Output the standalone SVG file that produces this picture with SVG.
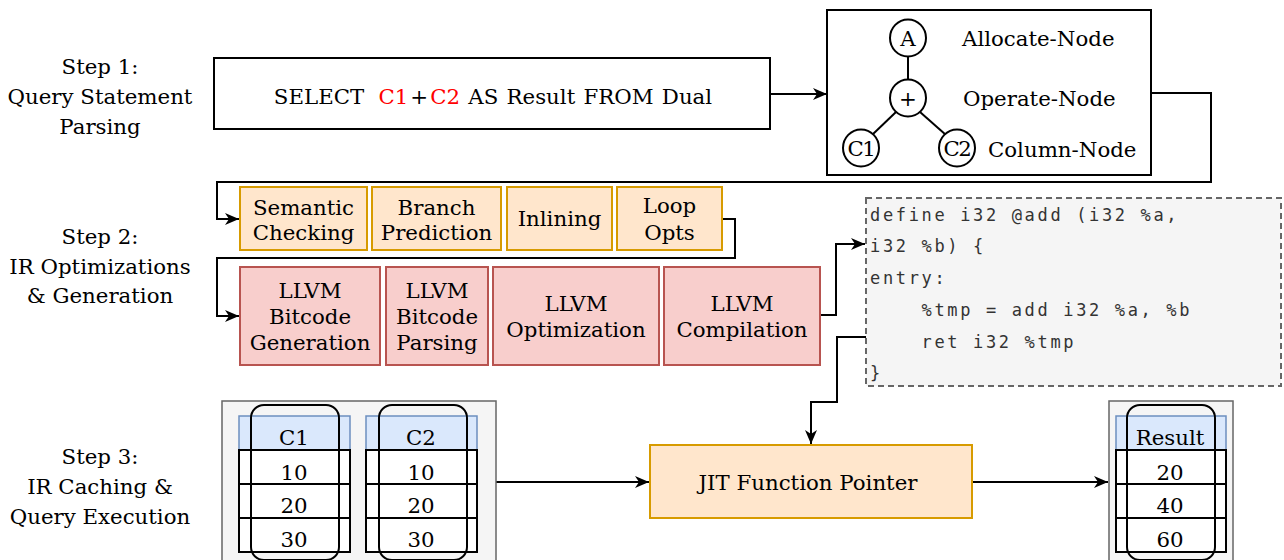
<svg xmlns="http://www.w3.org/2000/svg" width="1284" height="560" viewBox="0 0 1284 560">
<defs>
<marker id="arr" markerUnits="userSpaceOnUse" markerWidth="16" markerHeight="14" refX="14" refY="7" orient="auto">
<path d="M0,1 L14,7 L0,13 L4,7 Z" fill="#000"/>
</marker>
<style>
.t{font-family:"DejaVu Serif",serif;font-size:21.3px;fill:#000;text-anchor:middle}
.ts{font-family:"DejaVu Serif",serif;font-size:21.3px;fill:#000}
.code{font-family:"DejaVu Sans Mono",monospace;font-size:17px;letter-spacing:2.65px;fill:#333;white-space:pre}
.box{fill:#fff;stroke:#000;stroke-width:2}
.org{fill:#ffe6cc;stroke:#d79b00;stroke-width:2}
.red{fill:#f8cecc;stroke:#b85450;stroke-width:2}
.grp{fill:#f5f5f5;stroke:#666;stroke-width:1.5}
.hdr{fill:#dae8fc;stroke:#6c8ebf;stroke-width:1.5}
.cell{fill:#fff;stroke:#000;stroke-width:2}
.ovl{fill:none;stroke:#000;stroke-width:2}
.edge{fill:none;stroke:#000;stroke-width:2}
.circ{fill:#fff;stroke:#000;stroke-width:2}
.red-t{fill:#ff0000}
</style>
</defs>

<g id="step-labels">
<text class="t" x="100" y="74">Step 1:</text>
<text class="t" x="100" y="104">Query Statement</text>
<text class="t" x="100" y="134">Parsing</text>
<text class="t" x="100" y="244">Step 2:</text>
<text class="t" x="100" y="274">IR Optimizations</text>
<text class="t" x="100" y="303">&amp; Generation</text>
<text class="t" x="100" y="464">Step 3:</text>
<text class="t" x="100" y="494">IR Caching &amp;</text>
<text class="t" x="100" y="524">Query Execution</text>
</g>

<g id="connectors">
<path class="edge" d="M770,94 H827" marker-end="url(#arr)"/>
<path class="edge" d="M1151,93 H1211 V182 H217 V219 H239" marker-end="url(#arr)"/>
<path class="edge" d="M722,219 H735 V258 H217 V316 H239" marker-end="url(#arr)"/>
<path class="edge" d="M820,315 H836 V244 H865" marker-end="url(#arr)"/>
<path class="edge" d="M866,337 H837 V402 H811 V444" marker-end="url(#arr)"/>
<path class="edge" d="M495,482 H649" marker-end="url(#arr)"/>
<path class="edge" d="M972,482 H1108" marker-end="url(#arr)"/>
</g>

<g id="select">
<rect class="box" x="214" y="58" width="556" height="71"/>
<text class="t" x="493" y="104" style="word-spacing:1.5px">SELECT <tspan class="red-t" dx="6">C1</tspan><tspan dx="2">+</tspan><tspan class="red-t" dx="2">C2</tspan> AS Result FROM Dual</text>
</g>

<g id="tree">
<rect class="box" x="827" y="10" width="324" height="165"/>
<line class="edge" x1="908" y1="56" x2="908" y2="80"/>
<line class="edge" x1="896" y1="112" x2="872" y2="135"/>
<line class="edge" x1="920" y1="112" x2="946" y2="135"/>
<ellipse class="circ" cx="908" cy="38" rx="18" ry="18.5"/>
<ellipse class="circ" cx="908" cy="98" rx="18" ry="18.5"/>
<ellipse class="circ" cx="861" cy="148" rx="18" ry="18.5"/>
<ellipse class="circ" cx="957" cy="148" rx="18" ry="18.5"/>
<text class="t" x="908" y="46">A</text>
<text class="t" x="908" y="106">+</text>
<text class="t" x="861" y="156" style="letter-spacing:-1.5px">C1</text>
<text class="t" x="957" y="156" style="letter-spacing:-1.5px">C2</text>
<text class="ts" x="962" y="46">Allocate-Node</text>
<text class="ts" x="963" y="106">Operate-Node</text>
<text class="ts" x="988" y="157">Column-Node</text>
</g>

<g id="semantic-checking">
<rect class="org" x="240" y="187" width="127" height="63"/>
<text class="t" x="303.5" y="215">Semantic</text>
<text class="t" x="303.5" y="240">Checking</text>
</g>
<g id="branch-prediction">
<rect class="org" x="372" y="187" width="129" height="63"/>
<text class="t" x="436.5" y="215">Branch</text>
<text class="t" x="436.5" y="240">Prediction</text>
</g>
<g id="inlining">
<rect class="org" x="507" y="187" width="105" height="63"/>
<text class="t" x="559.5" y="226">Inlining</text>
</g>
<g id="loop-opts">
<rect class="org" x="617" y="187" width="105" height="63"/>
<text class="t" x="669.5" y="213">Loop</text>
<text class="t" x="669.5" y="240">Opts</text>
</g>

<g id="llvm-bitcode-generation">
<rect class="red" x="240" y="267" width="140" height="98"/>
<text class="t" x="310" y="298">LLVM</text>
<text class="t" x="310" y="324">Bitcode</text>
<text class="t" x="310" y="350">Generation</text>
</g>
<g id="llvm-bitcode-parsing">
<rect class="red" x="386" y="267" width="102" height="98"/>
<text class="t" x="437" y="298">LLVM</text>
<text class="t" x="437" y="324">Bitcode</text>
<text class="t" x="437" y="350">Parsing</text>
</g>
<g id="llvm-optimization">
<rect class="red" x="493" y="267" width="166" height="98"/>
<text class="t" x="576" y="311">LLVM</text>
<text class="t" x="576" y="337">Optimization</text>
</g>
<g id="llvm-compilation">
<rect class="red" x="664" y="267" width="156" height="98"/>
<text class="t" x="742" y="311">LLVM</text>
<text class="t" x="742" y="337">Compilation</text>
</g>

<g id="ir-code">
<rect x="866" y="198" width="415" height="188" fill="#f5f5f5" stroke="#666" stroke-width="2" stroke-dasharray="6 4"/>
<text class="code" x="870" y="221">define i32 @add (i32 %a,</text>
<text class="code" x="870" y="252">i32 %b) {</text>
<text class="code" x="870" y="284">entry:</text>
<text class="code" x="870" y="316">    %tmp = add i32 %a, %b</text>
<text class="code" x="870" y="348">    ret i32 %tmp</text>
<text class="code" x="870" y="379">}</text>
</g>

<g id="jit">
<rect class="org" x="650" y="445" width="322" height="73"/>
<text class="t" x="808" y="490">JIT Function Pointer</text>
</g>

<g id="input-columns">
<rect class="grp" x="222" y="401" width="274" height="170"/>
<rect class="hdr" x="239" y="416" width="111" height="34"/>
<rect class="cell" x="239" y="450" width="111" height="34"/>
<rect class="cell" x="239" y="484" width="111" height="34"/>
<rect class="cell" x="239" y="518" width="111" height="34"/>
<rect class="ovl" x="251" y="405" width="88" height="155" rx="13"/>
<text class="t" x="294" y="445">C1</text>
<text class="t" x="294" y="480">10</text>
<text class="t" x="294" y="513">20</text>
<text class="t" x="294" y="547">30</text>
<rect class="hdr" x="366" y="416" width="111" height="34"/>
<rect class="cell" x="366" y="450" width="111" height="34"/>
<rect class="cell" x="366" y="484" width="111" height="34"/>
<rect class="cell" x="366" y="518" width="111" height="34"/>
<rect class="ovl" x="379" y="405" width="88" height="155" rx="13"/>
<text class="t" x="421" y="445">C2</text>
<text class="t" x="421" y="480">10</text>
<text class="t" x="421" y="513">20</text>
<text class="t" x="421" y="547">30</text>
</g>

<g id="result-column">
<rect class="grp" x="1109" y="401" width="124" height="170"/>
<rect class="hdr" x="1116" y="416" width="110" height="34"/>
<rect class="cell" x="1116" y="450" width="110" height="34"/>
<rect class="cell" x="1116" y="484" width="110" height="34"/>
<rect class="cell" x="1116" y="518" width="110" height="34"/>
<rect class="ovl" x="1127" y="405" width="88" height="155" rx="13"/>
<text class="t" x="1170" y="445">Result</text>
<text class="t" x="1170" y="480">20</text>
<text class="t" x="1170" y="513">40</text>
<text class="t" x="1170" y="547">60</text>
</g>
</svg>
